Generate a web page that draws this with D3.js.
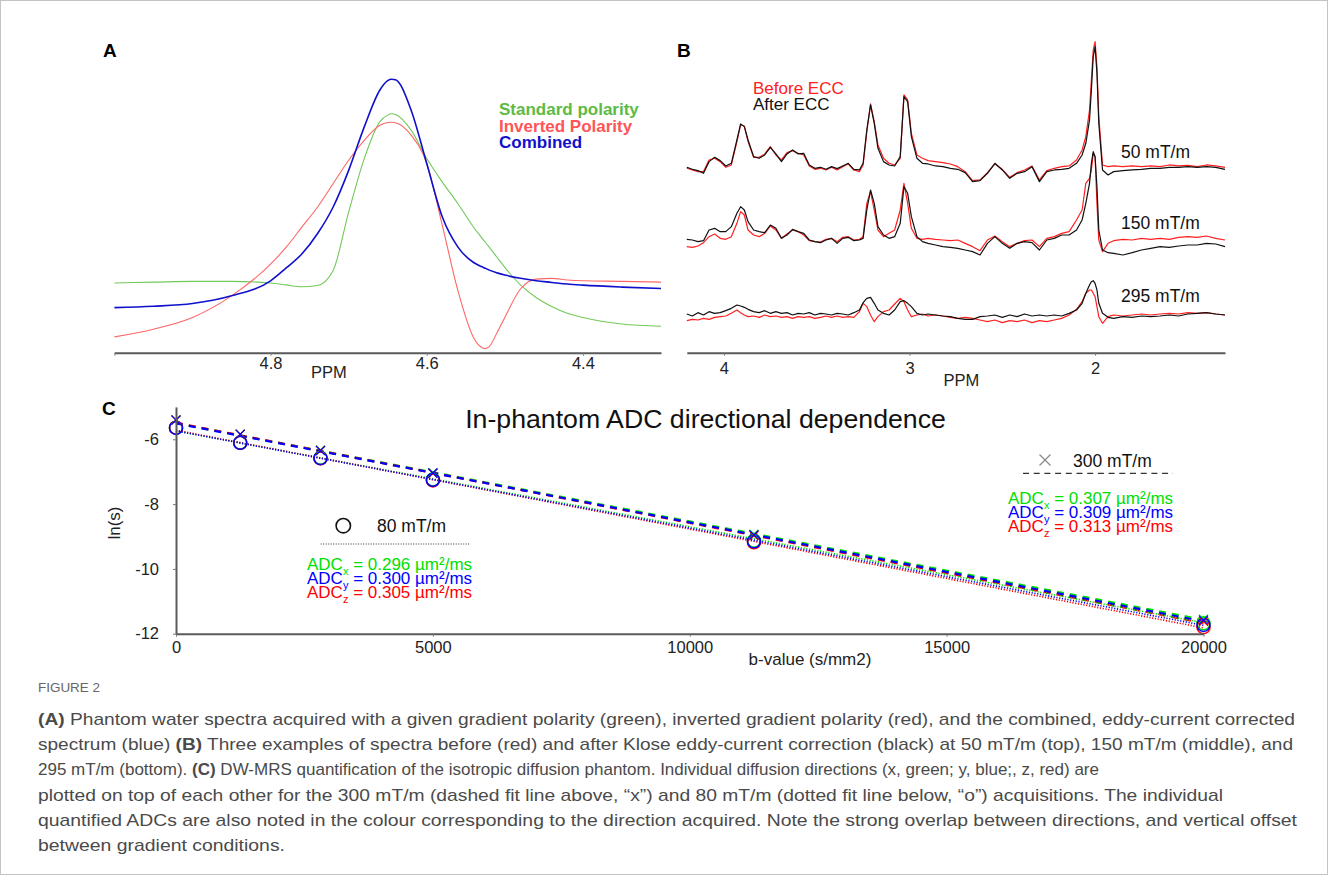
<!DOCTYPE html>
<html>
<head>
<meta charset="utf-8">
<script src="https://cdn.jsdelivr.net/npm/d3@7"></script>
<style>
  body { margin: 0; background: #fff; }
  svg text { font-family: "Liberation Sans", Arial, Helvetica, sans-serif; }
</style>
</head>
<body>
<svg id="fig" width="1328" height="875"></svg>
<script>
// ---------- panel A : water peak, three acquisitions ----------
var ppmA = [5.00, 4.95, 4.90, 4.85, 4.80, 4.78, 4.76, 4.74, 4.72, 4.70, 4.68, 4.66, 4.65, 4.645, 4.64, 4.62,
            4.60, 4.58, 4.56, 4.54, 4.53, 4.525, 4.52, 4.51, 4.50, 4.48, 4.46, 4.44, 4.42, 4.40, 4.35, 4.30];
var standardA = [25.5, 25.8, 26.1, 26.1, 25.5, 24.8, 24.1, 24.6, 30.0, 51.4, 71.0, 84.5, 86.9, 87.4, 87.1, 81.4,
                 71.0, 62.4, 54.5, 45.9, 42.2, 40.4, 38.6, 34.9, 31.2, 24.8, 20.2, 16.9, 14.4, 12.9, 10.5, 9.7];
var invertedA = [5.8, 8.6, 12.9, 20.8, 32.4, 38.6, 45.9, 53.2, 61.8, 70.4, 77.7, 83.2, 84.2, 84.3, 84.1, 79.6,
                 69.2, 46.5, 22.6, 5.5, 2.0, 1.5, 2.2, 7.3, 12.9, 23.3, 26.9, 27.2, 26.6, 26.3, 26.1, 25.8];
var combinedA = [16.5, 17.0, 18.0, 20.8, 26.3, 31.0, 36.1, 43.5, 53.2, 66.7, 82.6, 96.1, 99.5, 100, 99.8, 88.7,
                 69.2, 49.6, 38.6, 33.0, 31.5, 30.9, 30.2, 29.2, 28.4, 27.2, 26.3, 25.7, 25.1, 24.7, 24.0, 23.5];
var ticksA = [5.0, 4.8, 4.6, 4.4];

// ---------- panel B : spectra before / after ECC ----------
var ppmB = [4.20, 4.17, 4.14, 4.11, 4.08, 4.05, 4.02, 3.99, 3.96, 3.93,
            3.91, 3.89, 3.87, 3.84, 3.81, 3.78, 3.75, 3.72, 3.69, 3.66,
            3.63, 3.60, 3.57, 3.54, 3.51, 3.48, 3.45, 3.42, 3.39, 3.36,
            3.33, 3.30, 3.27, 3.25, 3.23, 3.21, 3.19, 3.17, 3.14, 3.11,
            3.08, 3.05, 3.03, 3.01, 2.99, 2.96, 2.93, 2.90, 2.86, 2.82,
            2.78, 2.74, 2.70, 2.66, 2.62, 2.58, 2.54, 2.50, 2.46, 2.42,
            2.38, 2.34, 2.30, 2.26, 2.22, 2.18, 2.14, 2.10, 2.07, 2.05,
            2.03, 2.02, 2.01, 2.00, 1.99, 1.98, 1.96, 1.93, 1.90, 1.85,
            1.80, 1.75, 1.70, 1.65, 1.60, 1.55, 1.50, 1.45, 1.40, 1.35,
            1.30];
var after50 = [3, -3, -7, -15, 20, 33, 23, 7, 15, 85,
               133, 125, 85, 35, 30, 40, 63, 43, 20, 43,
               55, 43, 45, 10, 0, 3, -3, 5, -1, 7,
               15, -3, -5, 15, 115, 190, 135, 60, 20, 10,
               7, 35, 215, 200, 95, 30, 15, 13, 7, 5,
               0, -3, -13, -40, -37, -15, 15, -5, -30, -15,
               -10, 5, -40, -10, -5, -3, 0, 15, 40, 75,
               145, 235, 335, 365, 285, 135, -5, -20, -10, -7,
               -5, -3, 0, 0, 3, 3, 5, 3, 5, 3,
               -3];
var before50 = [0, -5, -10, -10, 25, 30, 20, 3, 10, 80,
                130, 127, 80, 33, 33, 43, 65, 40, 25, 47,
                53, 45, 40, 7, -3, 0, -5, 3, -5, 5,
                13, -5, -10, 10, 110, 193, 140, 70, 30, 15,
                10, 30, 220, 205, 105, 40, 30, 23, 20, 17,
                13, 5, -10, -37, -35, -13, 13, -3, -27, -13,
                -5, 7, -35, -7, 0, 5, 7, 25, 55, 95,
                175, 265, 355, 380, 305, 155, 10, 5, 7, 5,
                7, 5, 7, 5, 10, 7, 9, 5, 10, 7,
                3];
var after150 = [2, 0, -5, -2, 30, 35, 25, 25, 40, 80,
                100, 90, 55, 30, 25, 22, 45, 35, 5, 15,
                32, 25, 20, 0, -5, -8, 0, 5, -10, 5,
                8, -2, 0, 5, 90, 150, 110, 40, 15, 5,
                10, 50, 160, 140, 70, 10, -5, -10, -15, -20,
                -22, -25, -30, -35, -45, -10, 10, -10, -25, -10,
                -5, -8, -30, 0, 5, 15, 15, 30, 60, 110,
                170, 230, 265, 250, 160, 30, -30, -38, -40, -45,
                -38, -30, -25, -20, -22, -18, -15, -15, -10, -12,
                -20];
var before150 = [-20, -22, -18, -8, 10, 18, 5, 2, 10, 50,
                 85, 75, 30, 15, 10, 20, 42, 30, 5, 18,
                 30, 25, 15, -2, -5, -6, 2, 5, -5, 8,
                 10, 0, 2, 10, 110, 145, 90, 30, 10, 20,
                 30, 90, 170, 110, 35, 5, 2, 5, 2, 0,
                 -2, 0, -10, -20, -32, 0, 12, -5, -20, -10,
                 -2, 0, -20, 5, 10, 20, 25, 60, 90, 170,
                 185, 210, 260, 250, 110, 0, -35, -10, -2, 2,
                 0, 5, 2, 5, 2, 8, 10, 8, 12, 5,
                 0];
var after295 = [3, -3, 7, 0, 10, 5, 7, 13, 20, 30,
                27, 23, 17, 10, 7, 13, 5, 10, 5, 7,
                0, 5, 3, 7, 0, 5, 3, 0, 5, 3,
                0, 7, 15, 37, 50, 53, 35, 15, 5, 0,
                15, 40, 43, 35, 25, 5, 0, 3, 0, -3,
                -5, -10, -13, -13, -5, -3, 0, -7, 0, -5,
                3, -3, 0, -3, 0, -3, 5, 15, 35, 65,
                90, 100, 103, 95, 75, 35, 5, -7, -10, -5,
                -7, -3, -5, -3, 0, -3, 3, 5, 7, 3,
                0];
var before295 = [-17, -13, -15, -10, -13, -7, -5, -3, 5, 15,
                 7, 0, -5, -3, -7, 0, -5, -3, -7, -5,
                 -10, -5, -7, -5, -10, -7, -3, -7, -3, -7,
                 -5, -7, 10, 35, 25, 0, -20, -5, 10, 15,
                 33, 50, 40, 15, -5, 0, 3, -3, 0, -3,
                 -7, -10, -7, -10, -15, -20, -15, -23, -17, -20,
                 -15, -23, -17, -20, -15, -10, 0, 17, 40, 65,
                 75, 75, 65, 55, 25, -5, -25, -5, 0, -3,
                 0, 3, 0, 3, 5, 3, 7, 5, 7, 3,
                 0];
var gradientsB = ['50 mT/m', '150 mT/m', '295 mT/m'];
var ticksB = [4, 3, 2];

// ---------- panel C : ln(signal) vs b-value ----------
var bValues = [0, 1250, 2812.5, 5000, 11250, 20000];
var ln300x = [-5.40, -5.84, -6.33, -7.03, -8.93, -11.55];
var ln300y = [-5.41, -5.85, -6.35, -7.04, -8.95, -11.58];
var ln300z = [-5.40, -5.84, -6.34, -7.05, -8.97, -11.62];
var ln80x = [-5.64, -6.10, -6.57, -7.24, -9.13, -11.68];
var ln80y = [-5.65, -6.11, -6.58, -7.25, -9.15, -11.73];
var ln80z = [-5.64, -6.11, -6.59, -7.27, -9.18, -11.80];
var fitB = [0, 20000];
var fit300x = [-5.50, -11.57];
var fit300y = [-5.51, -11.62];
var fit300z = [-5.49, -11.67];
var fit80x = [-5.74, -11.66];
var fit80y = [-5.74, -11.74];
var fit80z = [-5.72, -11.82];
var adc300 = ['0.307', '0.309', '0.313'];
var adc80 = ['0.296', '0.300', '0.305'];
var ticksCx = [0, 5000, 10000, 15000, 20000];
var ticksCy = [-6, -8, -10, -12];

var svg = d3.select('#fig');
svg.append('rect')
    .attr('x', 0.5).attr('y', 0.5).attr('width', 1327).attr('height', 874)
    .attr('fill', '#fff').attr('stroke', '#c4c4c4');

function styleAxis(g, size) {
    g.select('.domain').attr('stroke', '#5a5a5a').attr('stroke-width', 2);
    g.selectAll('.tick line').attr('stroke', '#777');
    g.selectAll('.tick text').attr('fill', '#222').style('font-size', size + 'px')
        .style('font-family', '"Liberation Sans", Arial, sans-serif');
}

// ================= PANEL A =================
var xA = d3.scaleLinear().domain([5.0, 4.3]).range([114.4, 661]);
var yA = d3.scaleLinear().domain([0, 100]).range([352.7, 79.3]);
var lineA = d3.line()
    .x(function (d) { return xA(d[0]); })
    .y(function (d) { return yA(d[1]); })
    .curve(d3.curveMonotoneX);

function pairs(xs, ys) { return xs.map(function (x, i) { return [x, ys[i]]; }); }

[[standardA, '#72c95a', 1.1], [invertedA, '#ff6666', 1.1], [combinedA, '#1010cc', 1.6]].forEach(function (s) {
    svg.append('path').attr('d', lineA(pairs(ppmA, s[0])))
        .attr('fill', 'none').attr('stroke', s[1]).attr('stroke-width', s[2]);
});

var axA = svg.append('g').attr('transform', 'translate(0,352.7)')
    .call(d3.axisBottom(xA).tickValues(ticksA).tickSizeInner(3).tickSizeOuter(0).tickPadding(2)
        .tickFormat(function (d) { return d === 5 ? '' : d3.format('.1f')(d); }));
styleAxis(axA, 16.5);
svg.append('text').attr('x', 329).attr('y', 378).attr('text-anchor', 'middle')
    .style('font-size', '16.5px').attr('fill', '#222').text('PPM');

svg.append('text').attr('x', 103).attr('y', 57).style('font-size', '19px')
    .style('font-weight', 'bold').text('A');

var legA = [['Standard polarity', '#5cbb44'], ['Inverted Polarity', '#ff5555'], ['Combined', '#1111cc']];
legA.forEach(function (l, i) {
    svg.append('text').attr('x', 499).attr('y', 115 + i * 16.6)
        .style('font-size', '17px').style('font-weight', 'bold')
        .attr('fill', l[1]).text(l[0]);
});

// ================= PANEL B =================
var xB = d3.scaleLinear().domain([4.2, 1.3]).range([686.8, 1225]);
var yB = d3.scaleLinear().domain([0, 300]).range([0, -100]);
var lineB = d3.line()
    .x(function (d) { return xB(d[0]); })
    .y(function (d) { return yB(d[1]); });

var tracesB = [[before50, after50, 168.3], [before150, after150, 240], [before295, after295, 315]];
tracesB.forEach(function (t) {
    var g = svg.append('g').attr('transform', 'translate(0,' + t[2] + ')');
    g.append('path').attr('d', lineB(pairs(ppmB, t[0])))
        .attr('fill', 'none').attr('stroke', '#ff1f1f').attr('stroke-width', 1.2).attr('stroke-linejoin', 'round');
    g.append('path').attr('d', lineB(pairs(ppmB, t[1])))
        .attr('fill', 'none').attr('stroke', '#111').attr('stroke-width', 1.2).attr('stroke-linejoin', 'round');
});

var gradY = [158, 229, 301.5];
gradientsB.forEach(function (s, i) {
    svg.append('text').attr('x', 1121).attr('y', gradY[i]).style('font-size', '17.5px')
        .attr('fill', '#111').text(s);
});

var axB = svg.append('g').attr('transform', 'translate(0,352.7)')
    .call(d3.axisBottom(xB).tickValues(ticksB).tickSizeInner(3).tickSizeOuter(0).tickPadding(6.6)
        .tickFormat(d3.format('d')));
styleAxis(axB, 16.5);
svg.append('text').attr('x', 961.5).attr('y', 386).attr('text-anchor', 'middle')
    .style('font-size', '16.5px').attr('fill', '#222').text('PPM');

svg.append('text').attr('x', 677).attr('y', 57).style('font-size', '19px')
    .style('font-weight', 'bold').text('B');
svg.append('text').attr('x', 753).attr('y', 94).style('font-size', '17px')
    .attr('fill', '#ff2020').text('Before ECC');
svg.append('text').attr('x', 753).attr('y', 110).style('font-size', '17px')
    .attr('fill', '#111').text('After ECC');

// ================= PANEL C =================
var xC = d3.scaleLinear().domain([0, 20000]).range([176, 1203.5]);
var yC = d3.scaleLinear().domain([-12, -5]).range([633.7, 406.9]);
var colC = { x: '#00e000', y: '#0000ff', z: '#ff0000' };

var fits = [
    [fit300x, colC.x, '7,6', 2.2], [fit300z, colC.z, '7,6', 2.2], [fit300y, colC.y, '7,6', 2.2],
    [fit80x, colC.x, '1.2,1.6', 1.6], [fit80z, colC.z, '1.2,1.6', 1.6], [fit80y, colC.y, '1.2,1.6', 1.6]
];
fits.forEach(function (f) {
    svg.append('line')
        .attr('x1', xC(fitB[0])).attr('y1', yC(f[0][0]))
        .attr('x2', xC(fitB[1])).attr('y2', yC(f[0][1]))
        .attr('stroke', f[1]).attr('stroke-width', f[3]).attr('stroke-dasharray', f[2]);
});

var circles = [[ln80x, colC.x], [ln80z, colC.z], [ln80y, colC.y]];
circles.forEach(function (c) {
    svg.append('g').selectAll('circle').data(c[0]).enter().append('circle')
        .attr('cx', function (d, i) { return xC(bValues[i]); })
        .attr('cy', function (d) { return yC(d); })
        .attr('r', 6.5).attr('fill', 'none').attr('stroke', c[1]).attr('stroke-width', 1.5);
});
var crosses = [[ln300x, colC.x], [ln300z, colC.z], [ln300y, colC.y]];
crosses.forEach(function (c) {
    svg.append('g').selectAll('path').data(c[0]).enter().append('path')
        .attr('d', function (d, i) {
            var cx = xC(bValues[i]), cy = yC(d), h = 4.5;
            return 'M' + (cx - h) + ',' + (cy - h) + 'L' + (cx + h) + ',' + (cy + h) +
                'M' + (cx - h) + ',' + (cy + h) + 'L' + (cx + h) + ',' + (cy - h);
        })
        .attr('fill', 'none').attr('stroke', c[1]).attr('stroke-width', 1.2);
});

var axCx = svg.append('g').attr('transform', 'translate(0,633.7)')
    .call(d3.axisBottom(xC).tickValues(ticksCx).tickSizeInner(3).tickSizeOuter(0).tickPadding(5)
        .tickFormat(d3.format('d')));
styleAxis(axCx, 16.5);
var axCy = svg.append('g').attr('transform', 'translate(176,0)')
    .call(d3.axisLeft(yC).tickValues(ticksCy).tickSizeInner(3).tickSizeOuter(0).tickPadding(14)
        .tickFormat(function (d) { return String(d); }));
styleAxis(axCy, 16.5);

svg.append('text').attr('x', 810).attr('y', 665).attr('text-anchor', 'middle')
    .style('font-size', '17px').attr('fill', '#222').text('b-value (s/mm2)');
svg.append('text').attr('transform', 'translate(120,523) rotate(-90)').attr('text-anchor', 'middle')
    .style('font-size', '17px').attr('fill', '#222').text('ln(s)');
svg.append('text').attr('x', 705.5).attr('y', 428).attr('text-anchor', 'middle')
    .style('font-size', '26.7px').attr('fill', '#111').text('In-phantom ADC directional dependence');
svg.append('text').attr('x', 102).attr('y', 415).style('font-size', '19px')
    .style('font-weight', 'bold').text('C');

// legend 300 mT/m
svg.append('path').attr('d', 'M1039.5,454.5L1050.5,465.5M1039.5,465.5L1050.5,454.5')
    .attr('stroke', '#8a8a8a').attr('stroke-width', 1.3);
svg.append('text').attr('x', 1073).attr('y', 466.7).style('font-size', '17.5px').attr('fill', '#111').text('300 mT/m');
svg.append('line').attr('x1', 1023).attr('x2', 1173).attr('y1', 473.3).attr('y2', 473.3)
    .attr('stroke', '#333').attr('stroke-width', 1.3).attr('stroke-dasharray', '6,4.7');

// legend 80 mT/m
svg.append('circle').attr('cx', 343.3).attr('cy', 525.7).attr('r', 7.2)
    .attr('fill', 'none').attr('stroke', '#111').attr('stroke-width', 1.6);
svg.append('text').attr('x', 377).attr('y', 532).style('font-size', '17.5px').attr('fill', '#111').text('80 mT/m');
svg.append('line').attr('x1', 320.7).attr('x2', 470).attr('y1', 544).attr('y2', 544)
    .attr('stroke', '#333').attr('stroke-width', 1.2).attr('stroke-dasharray', '1,1.5');

function adcRows(x, y0, values) {
    var subs = ['x', 'y', 'z'];
    values.forEach(function (v, i) {
        var t = svg.append('text').attr('x', x).attr('y', y0 + i * 14.2)
            .style('font-size', '17px').attr('fill', colC[subs[i]]);
        t.append('tspan').text('ADC');
        t.append('tspan').attr('dy', 5).style('font-size', '11px').text(subs[i]);
        t.append('tspan').attr('dy', -5).text(' = ' + v + ' \u00b5m\u00b2/ms');
    });
}
adcRows(1008, 504, adc300);
adcRows(307, 570, adc80);

// ================= CAPTION =================
svg.append('text').attr('x', 38).attr('y', 692).style('font-size', '13px')
    .attr('textLength', 62).attr('lengthAdjust', 'spacingAndGlyphs')
    .attr('fill', '#666').text('FIGURE 2');

var captionLines = [
    [['(A)', 1], [' Phantom water spectra acquired with a given gradient polarity (green), inverted gradient polarity (red), and the combined, eddy-current corrected', 0]],
    [['spectrum (blue) ', 0], ['(B)', 1], [' Three examples of spectra before (red) and after Klose eddy-current correction (black) at 50 mT/m (top), 150 mT/m (middle), and', 0]],
    [['295 mT/m (bottom). ', 0], ['(C)', 1], [' DW-MRS quantification of the isotropic diffusion phantom. Individual diffusion directions (x, green; y, blue;, z, red) are', 0]],
    [['plotted on top of each other for the 300 mT/m (dashed fit line above, \u201cx\u201d) and 80 mT/m (dotted fit line below, \u201co\u201d) acquisitions. The individual', 0]],
    [['quantified ADCs are also noted in the colour corresponding to the direction acquired. Note the strong overlap between directions, and vertical offset', 0]],
    [['between gradient conditions.', 0]]
];
var captionWidths = [1257, 1255, 1061, 1185, 1259, 247];
captionLines.forEach(function (parts, i) {
    var t = svg.append('text').attr('x', 38).attr('y', 725 + i * 25.2)
        .style('font-size', '17px')
        .attr('fill', '#4a4a4a')
        .attr('textLength', captionWidths[i]).attr('lengthAdjust', 'spacingAndGlyphs');
    parts.forEach(function (p) {
        t.append('tspan').style('font-weight', p[1] ? 'bold' : 'normal').text(p[0]);
    });
});
</script>
</body>
</html>
